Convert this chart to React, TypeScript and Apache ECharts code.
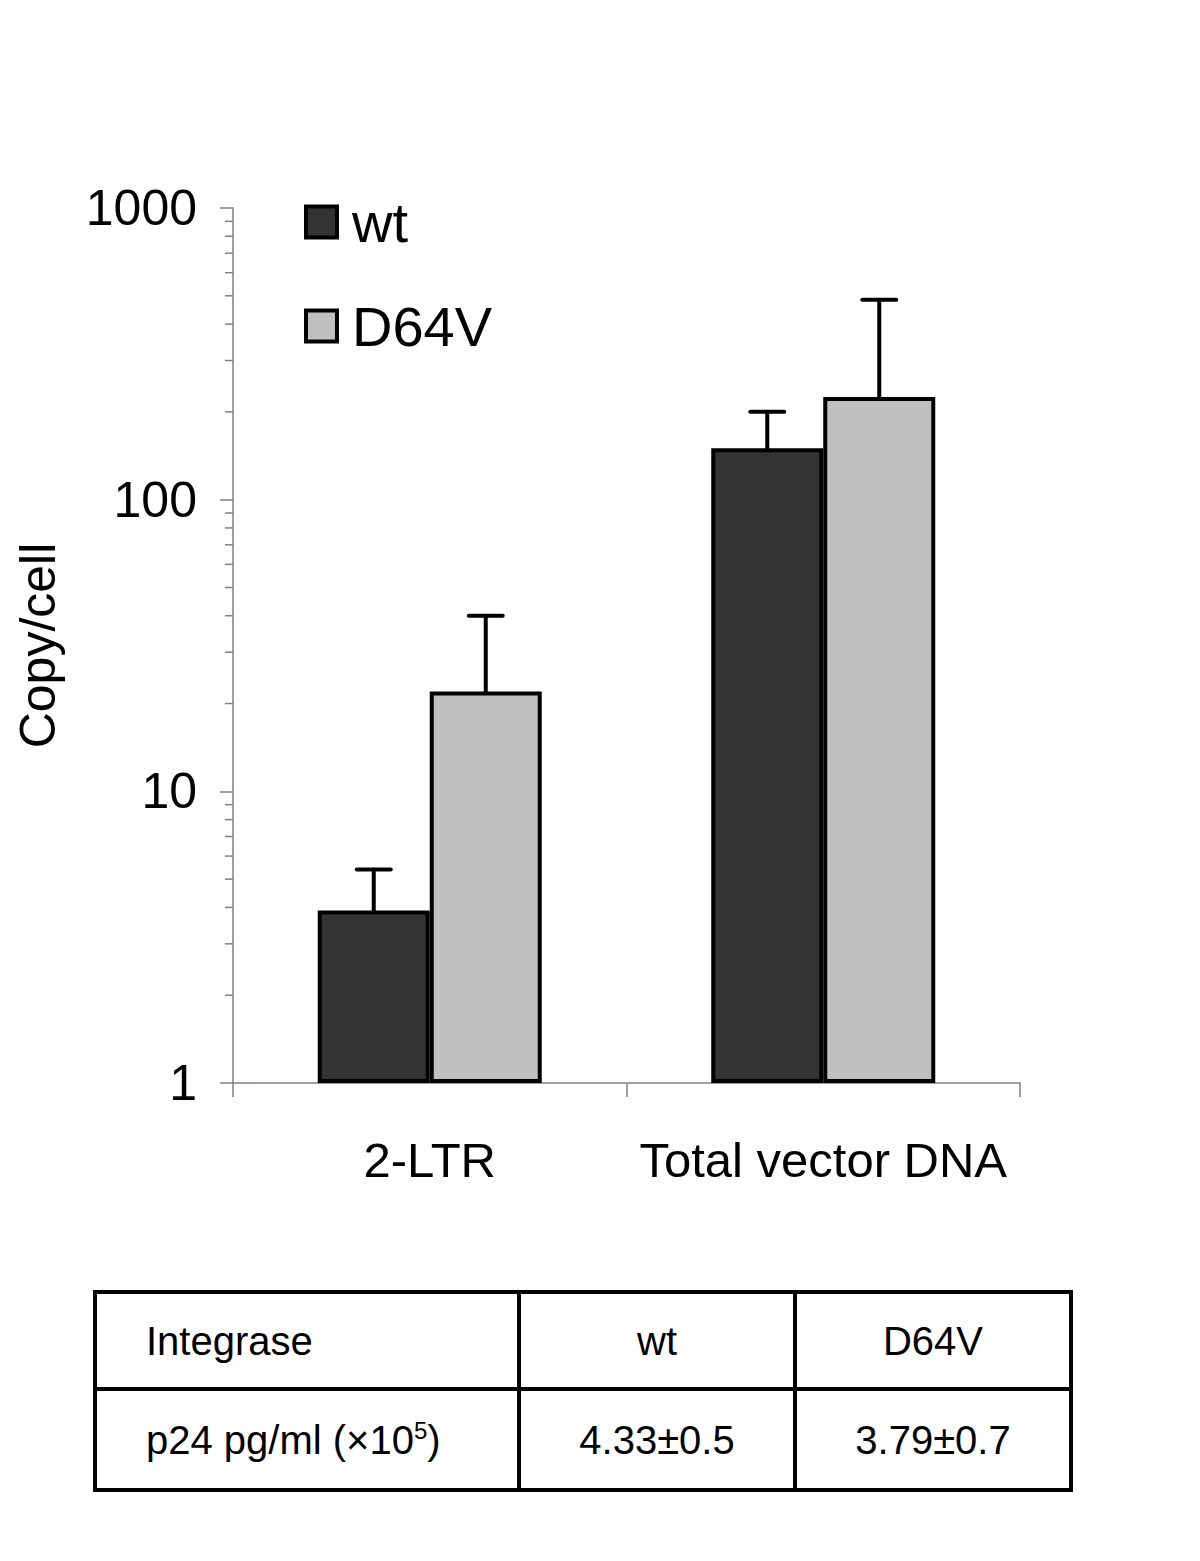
import React, { useEffect, useRef } from "react";
import * as echarts from "echarts";

const categories = ["2-LTR", "Total vector DNA"];
const seriesNames = ["wt", "D64V"];
const wtValues = [3.9, 150];
const d64vValues = [22, 225];
const wtErrTop = [5.4, 200];
const d64vErrTop = [40, 485];
const yTickLabels = ["1", "10", "100", "1000"];
const minorTickValues = [2, 3, 4, 5, 6, 7, 8, 9, 20, 30, 40, 50, 60, 70, 80, 90, 200, 300, 400, 500, 600, 700, 800, 900];
const tableHeader = ["Integrase", "wt", "D64V"];
const tableRow = ["p24 pg/ml (×10{sup|5})", "4.33±0.5", "3.79±0.7"];

const FONT = "'Liberation Sans', Arial, Helvetica, sans-serif";
const BAR_W = 112;

export default function App() {
  const ref = useRef<HTMLDivElement>(null);
  useEffect(() => {
    if (!ref.current) return;
    const chart = echarts.init(ref.current, undefined, { renderer: "svg" });

    const errSeries = (name: string, vals: number[], tops: number[], side: number) => ({
      type: "custom",
      name: name + " error",
      z: 1,
      clip: false,
      silent: true,
      data: vals.map((v, i) => [i, v, tops[i]]),
      encode: { x: 0, y: 1 },
      renderItem: (params: any, api: any) => {
        const base = api.coord([api.value(0), api.value(1)]);
        const top = api.coord([api.value(0), api.value(2)]);
        const cx = base[0] + (side * BAR_W) / 2;
        const st = { stroke: "#000", lineWidth: 4, lineCap: "round" };
        return {
          type: "group",
          children: [
            { type: "line", shape: { x1: cx, y1: base[1], x2: cx, y2: top[1] }, style: st },
            { type: "line", shape: { x1: cx - 17, y1: top[1], x2: cx + 17, y2: top[1] }, style: st },
          ],
        };
      },
    });

    const colX = [95, 519, 795, 1071];
    const rowY = [1292, 1389, 1490];
    const tableGraphics: any[] = [
      { type: "rect", shape: { x: 95, y: 1292, width: 976, height: 198 }, style: { fill: "none", stroke: "#000", lineWidth: 4 } },
      { type: "line", shape: { x1: 95, y1: 1389, x2: 1071, y2: 1389 }, style: { stroke: "#000", lineWidth: 4 } },
      { type: "line", shape: { x1: 519, y1: 1292, x2: 519, y2: 1490 }, style: { stroke: "#000", lineWidth: 4 } },
      { type: "line", shape: { x1: 795, y1: 1292, x2: 795, y2: 1490 }, style: { stroke: "#000", lineWidth: 4 } },
    ];
    [tableHeader, tableRow].forEach((row, r) => {
      const cy = (rowY[r] + rowY[r + 1]) / 2;
      row.forEach((txt, c) => {
        const first = c === 0;
        tableGraphics.push({
          type: "text",
          x: first ? 146 : (colX[c] + colX[c + 1]) / 2,
          y: cy,
          style: {
            text: txt,
            fill: "#000",
            fontSize: 40,
            fontFamily: FONT,
            align: first ? "left" : "center",
            verticalAlign: "middle",
            rich: {
              sup: { fontSize: 24, fontFamily: FONT, fill: "#000", verticalAlign: "top", padding: [0, 0, 18, 0] },
            },
          },
        });
      });
    });

    chart.setOption({
      animation: false,
      backgroundColor: "#fff",
      textStyle: { fontFamily: FONT },
      grid: { left: 233, top: 208, width: 787, height: 875, outerBoundsMode: "none" },
      legend: {
        data: seriesNames,
        orient: "vertical",
        left: 299,
        top: 189,
        itemWidth: 31,
        itemHeight: 31,
        itemGap: 48,
        icon: "rect",
        itemStyle: { borderColor: "#000", borderWidth: 4 },
        textStyle: { fontSize: 56, fontFamily: FONT, color: "#000", padding: [0, 0, 0, 10] },
      },
      xAxis: {
        type: "category",
        data: categories,
        axisLine: { lineStyle: { color: "#808080", width: 1.5 } },
        axisTick: { show: true, length: 14, lineStyle: { color: "#808080", width: 1.5 } },
        axisLabel: { interval: 0, fontSize: 49, color: "#000", margin: 52, fontFamily: FONT, hideOverlap: false },
      },
      yAxis: {
        type: "log",
        logBase: 10,
        min: 1,
        max: 1000,
        name: "Copy/cell",
        nameLocation: "middle",
        nameGap: 170,
        nameTextStyle: { fontSize: 50, color: "#000", fontFamily: FONT },
        axisLine: { show: true, lineStyle: { color: "#808080", width: 1.5 } },
        axisTick: { show: true, length: 13, lineStyle: { color: "#808080", width: 1.5 } },
        splitLine: { show: false },
        axisLabel: {
          fontSize: 50,
          color: "#000",
          margin: 36,
          fontFamily: FONT,
          formatter: (v: number) => yTickLabels[Math.round(Math.log10(v))] ?? String(v),
        },
      },
      series: [
        {
          type: "bar",
          name: seriesNames[0],
          data: wtValues,
          barWidth: BAR_W,
          barGap: "0%",
          z: 2,
          itemStyle: { color: "#333333", borderColor: "#000", borderWidth: 4 },
        },
        {
          type: "bar",
          name: seriesNames[1],
          data: d64vValues,
          barWidth: BAR_W,
          barGap: "0%",
          z: 2,
          itemStyle: { color: "#c0c0c0", borderColor: "#000", borderWidth: 4 },
        },
        errSeries("wt", wtValues, wtErrTop, -1),
        errSeries("D64V", d64vValues, d64vErrTop, 1),
        {
          type: "custom",
          name: "minor ticks",
          silent: true,
          clip: false,
          data: minorTickValues.map((v) => [0, v]),
          encode: { x: 0, y: 1 },
          renderItem: (params: any, api: any) => {
            const y = api.coord([0, api.value(1)])[1];
            const x0 = params.coordSys.x;
            return {
              type: "line",
              shape: { x1: x0 - 8, y1: y, x2: x0, y2: y },
              style: { stroke: "#808080", lineWidth: 1.5 },
            };
          },
        },
      ],
      graphic: tableGraphics,
    });
    return () => chart.dispose();
  }, []);
  return (
    <div
      ref={ref}
      style={{ position: "absolute", left: 0, top: 0, width: 1200, height: 1561, background: "#fff" }}
    />
  );
}
